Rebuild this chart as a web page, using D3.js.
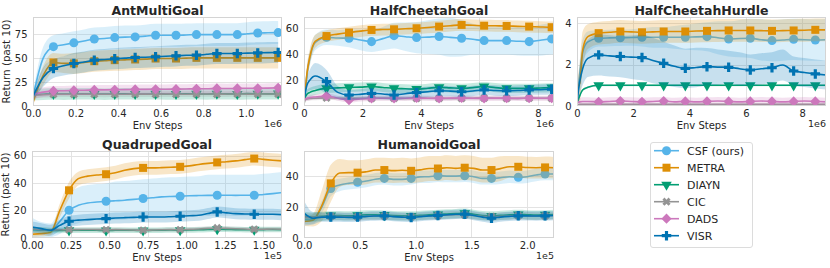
<!DOCTYPE html>
<html>
<head>
<meta charset="utf-8">
<script src="https://cdn.jsdelivr.net/npm/d3@7"></script>
<style>
  body { margin: 0; background: #fff; }
  svg { display: block; }
  text { font-family: "DejaVu Sans", sans-serif; fill: #262626; }
</style>
</head>
<body>
<div id="chart"></div>
<script>
// methods, colours, markers (same order in every panel)
const methods = ["CSF (ours)", "METRA", "DIAYN", "CIC", "DADS", "VISR"];
const colors = ["#56b4e9", "#de8f05", "#029e73", "#949494", "#cc78bc", "#0173b2"];
const shapes = ["circle", "square", "triangle", "x", "diamond", "plus"];

// ---- AntMultiGoal (x in 1e6 steps)
const antX = [0, 0.048, 0.096, 0.144, 0.192, 0.24, 0.288, 0.336, 0.384, 0.432, 0.48, 0.528, 0.576, 0.624, 0.672, 0.72, 0.768, 0.816, 0.864, 0.912, 0.96, 1.008, 1.056, 1.104, 1.152];
const antMarks = [2, 4, 6, 8, 10, 12, 14, 16, 18, 20, 22, 24];
const antCSF = [10, 50, 62, 64, 66, 68, 70, 70.5, 71.5, 72, 72.2, 73, 73.9, 73.9, 73.9, 74.2, 74.6, 74.6, 74.6, 74.6, 74.6, 75.5, 76.3, 76.5, 76.7];
const antCSFsd = [4, 12, 12, 12, 12, 12, 12, 12, 12, 12, 12, 12, 12, 12, 12, 12, 12, 12, 12, 12, 12, 12, 12, 12, 12];
const antMETRA = [4, 32, 45.5, 44.5, 44.5, 45.5, 46.8, 47.3, 47.9, 48.2, 48.6, 49, 49.6, 49.6, 49.6, 50, 50.3, 50.3, 50.3, 50.3, 50.3, 50.3, 50.3, 50.3, 50.3];
const antMETRAsd = [3, 10, 10, 10, 11, 11, 11, 11, 11, 11, 11, 11, 11, 11, 11, 11, 11, 11, 11, 11, 11, 11, 11, 11, 11];
const antDIAYN = [12, 12.3, 12.6, 12.4, 12.5, 12.7, 12.5, 12.4, 12.6, 12.8, 12.6, 12.5, 12.7, 12.6, 12.5, 12.8, 12.7, 12.6, 12.8, 12.7, 12.6, 12.9, 12.8, 12.7, 12.9];
const antDIAYNsd = 6;
const antCIC = [11, 11.8, 12.2, 12.3, 12.2, 12.4, 12.3, 12.2, 12.4, 12.3, 12.5, 12.4, 12.3, 12.5, 12.4, 12.3, 12.5, 12.6, 12.4, 12.5, 12.6, 12.4, 12.5, 12.6, 12.5];
const antCICsd = 3;
const antDADS = [12, 14.5, 15.8, 16, 16.3, 16.5, 16.8, 16.9, 17, 17.1, 17.3, 17.4, 17.5, 17.5, 17.6, 17.8, 18, 18, 18.4, 18.3, 18.4, 18.6, 18.5, 18.7, 19];
const antDADSsd = 5;
const antVISR = [10, 30, 39.2, 42, 44.4, 46, 47.9, 48.6, 49.3, 50, 50.7, 51, 51.4, 52, 52.4, 53, 53.1, 54, 54.8, 54.8, 54.8, 55.3, 55.5, 55.8, 55.9];
const antVISRsd = [4, 10, 10, 10, 11, 11, 11, 11, 11, 11, 11, 11, 11, 11, 11, 11, 11, 11, 11, 11, 11, 11, 11, 11, 11];
const antXTicks = [0, 0.2, 0.4, 0.6, 0.8, 1.0];
const antYTicks = [0, 25, 50, 75];

// ---- HalfCheetahGoal (x in 1e6 steps)
const hcgX = [0, 0.1, 0.2, 0.385, 0.77, 1.155, 1.54, 1.925, 2.31, 2.695, 3.08, 3.465, 3.85, 4.235, 4.62, 5.005, 5.39, 5.775, 6.16, 6.545, 6.93, 7.315, 7.7, 8.085, 8.47, 8.55];
const hcgMarks = [4, 6, 8, 10, 12, 14, 16, 18, 20, 22, 24];
const hcgCSF = [0, 24, 37, 49, 53, 52.5, 52.3, 51, 49.7, 52, 54.3, 53.5, 52.8, 53.2, 53.6, 53, 52.3, 51.5, 50.5, 50.5, 50.5, 50, 49.7, 50.8, 51.8, 51.8];
const hcgCSFsd = [1, 6, 6, 6, 6, 6, 7, 8, 8, 9, 10, 11, 12, 13, 14, 15, 14, 12, 11, 11, 11, 11, 11, 12, 12, 12];
const hcgMETRA = [0, 25, 38, 50, 54, 55.5, 56.7, 57.8, 58.7, 59, 59.2, 59.6, 60, 60.6, 61.3, 62, 62.6, 62.3, 62, 61.9, 61.8, 61.5, 61.3, 61, 60.8, 60.8];
const hcgMETRAsd = [1, 6, 6, 5, 4.5, 4.5, 4.5, 4.5, 4.5, 4.5, 4.5, 4.5, 4.5, 4.5, 4.5, 4.5, 4.5, 4.5, 4.5, 4.5, 4.5, 4.5, 4.5, 4.5, 4.5, 4.5];
const hcgDIAYN = [4.6, 9, 10.5, 12, 13.6, 14, 14.4, 14.6, 15, 14.3, 13.6, 13.3, 13, 13.7, 14.4, 14, 13.6, 14.2, 15, 14.2, 13.6, 13.6, 13.6, 13.9, 14.2, 14.2];
const hcgDIAYNsd = 3.5;
const hcgCIC = [5, 5.5, 5.8, 6, 6.3, 6, 5.9, 5.9, 5.9, 6, 5.9, 5.8, 5.9, 6, 5.9, 5.8, 5.9, 6, 6.1, 6, 5.9, 5.9, 6, 6, 5.9, 5.9];
const hcgCICsd = 1.5;
const hcgDADS = [4, 6, 6.5, 7, 7.7, 6, 4.6, 5.5, 5.9, 6, 5.9, 6, 6.2, 6, 5.9, 6.1, 6.2, 6, 5.9, 6.1, 6, 5.9, 6.1, 6, 6, 6];
const hcgDADSsd = 2;
const hcgVISR = [5, 16, 20, 23.2, 18.8, 10.5, 8.5, 9, 9.8, 9.3, 8.5, 9.5, 10.3, 11, 11.8, 11.5, 11, 11.6, 12.4, 12, 11.8, 12, 12.4, 12.6, 12.9, 12.9];
const hcgVISRsd = [2, 6, 8, 10, 9, 5, 4, 4, 4, 4, 4, 4, 4, 4, 4, 4, 4, 4, 4, 4, 4, 4, 4, 4, 4, 4];
const hcgXTicks = [0, 2, 4, 6, 8];
const hcgYTicks = [0, 20, 40, 60];

// ---- HalfCheetahHurdle (x in 1e6 steps)
const hchX = [0, 0.1, 0.2, 0.385, 0.77, 1.155, 1.54, 1.925, 2.31, 2.695, 3.08, 3.465, 3.85, 4.235, 4.62, 5.005, 5.39, 5.775, 6.16, 6.545, 6.93, 7.315, 7.7, 8.085, 8.47, 8.85];
const hchMarks = [4, 6, 8, 10, 12, 14, 16, 18, 20, 22, 24];
const hchCSF = [0.2, 1.6, 2.6, 3.1, 3.27, 3.29, 3.3, 3.31, 3.32, 3.32, 3.32, 3.32, 3.32, 3.34, 3.35, 3.3, 3.24, 3.26, 3.27, 3.2, 3.16, 3.19, 3.22, 3.2, 3.19, 3.2];
const hchCSFsd = [0.1, 0.6, 0.6, 0.5, 0.4, 0.4, 0.4, 0.4, 0.45, 0.5, 0.5, 0.55, 0.6, 0.65, 0.7, 0.8, 0.85, 0.9, 0.95, 1.0, 1.0, 1.0, 1.0, 1.0, 1.0, 1.0];
const hchMETRA = [0.9, 1.1, 2.7, 3.35, 3.52, 3.56, 3.6, 3.58, 3.56, 3.58, 3.6, 3.6, 3.6, 3.62, 3.63, 3.64, 3.65, 3.65, 3.65, 3.64, 3.63, 3.64, 3.65, 3.66, 3.68, 3.68];
const hchMETRAsd = [0.3, 1.0, 0.9, 0.6, 0.55, 0.55, 0.55, 0.55, 0.55, 0.55, 0.55, 0.55, 0.55, 0.55, 0.55, 0.55, 0.55, 0.55, 0.55, 0.55, 0.55, 0.55, 0.55, 0.55, 0.55, 0.55];
const hchDIAYN = [0.1, 0.5, 0.77, 0.9, 1.0, 1.0, 1.0, 1.0, 1.0, 1.0, 1.0, 1.0, 1.0, 1.0, 1.0, 1.0, 1.0, 1.0, 1.0, 1.0, 1.0, 1.0, 1.0, 1.0, 1.0, 1.0];
const hchDIAYNsd = 0.04;
const hchCIC = [0.05, 0.08, 0.08, 0.08, 0.08, 0.08, 0.08, 0.08, 0.08, 0.08, 0.08, 0.08, 0.08, 0.08, 0.08, 0.08, 0.08, 0.08, 0.08, 0.08, 0.08, 0.08, 0.08, 0.08, 0.08, 0.08];
const hchCICsd = 0.05;
const hchDADS = [0.15, 0.2, 0.22, 0.22, 0.2, 0.22, 0.24, 0.22, 0.2, 0.22, 0.24, 0.2, 0.22, 0.2, 0.22, 0.24, 0.22, 0.2, 0.22, 0.24, 0.22, 0.2, 0.22, 0.24, 0.22, 0.2];
const hchDADSsd = 0.2;
const hchVISR = [0.2, 1.2, 1.8, 2.3, 2.47, 2.42, 2.39, 2.36, 2.34, 2.2, 2.06, 1.92, 1.82, 1.86, 1.9, 1.88, 1.87, 1.8, 1.74, 1.8, 1.85, 1.98, 1.69, 1.62, 1.55, 1.5];
const hchVISRsd = [0.1, 0.6, 0.8, 0.9, 1.0, 1.0, 1.0, 1.05, 1.1, 1.1, 1.05, 1.0, 0.95, 0.95, 0.9, 0.85, 0.8, 0.8, 0.75, 0.75, 0.75, 0.75, 0.7, 0.7, 0.7, 0.7];
const hchXTicks = [0, 2, 4, 6, 8];
const hchYTicks = [0, 2, 4];

// ---- QuadrupedGoal (x in 1e5 steps), no DADS run
const quadX = [0, 0.06, 0.12, 0.18, 0.24, 0.3, 0.36, 0.42, 0.48, 0.54, 0.6, 0.66, 0.72, 0.78, 0.84, 0.9, 0.96, 1.02, 1.08, 1.14, 1.2, 1.26, 1.32, 1.38, 1.44, 1.5, 1.56, 1.62];
const quadMarks = [4, 8, 12, 16, 20, 24];
const quadCSF = [7, 5.6, 5.6, 12, 20.2, 23.8, 25.5, 26.2, 26.7, 27.1, 27.5, 28.1, 28.7, 29.3, 29.9, 30.2, 30.4, 30.7, 30.9, 31, 31.1, 31.1, 31, 31.1, 31.1, 31.7, 32.3, 33];
const quadCSFsd = [8, 6, 5, 9, 12, 13, 13, 13, 13, 14, 14, 14, 14, 14, 14, 14, 14, 14, 14, 15, 15, 15, 15, 15, 15, 15, 15, 15];
const quadMETRA = [2.7, 3.2, 4, 20, 34.7, 43.2, 45, 45.8, 46.4, 47.5, 49.3, 50.5, 51, 51, 51.2, 51.5, 51.8, 52.5, 53.5, 54.3, 55, 55.5, 56.1, 57, 57.8, 57.2, 56.6, 56.1];
const quadMETRAsd = [2, 2, 2, 5, 6, 5, 5, 5, 5, 5, 5, 5, 5, 5, 5, 5, 5, 5, 5, 5, 5, 5, 5, 5, 5, 5, 5, 5];
const quadDIAYN = [6, 6, 5.5, 5.5, 5.6, 5.6, 5.7, 5.6, 5.5, 5.6, 5.7, 5.6, 5.5, 5.6, 5.7, 5.8, 5.7, 5.8, 6, 6.2, 6.4, 6.3, 6.1, 6, 6, 6.1, 6.2, 6.1];
const quadDIAYNsd = 2;
const quadCIC = [6.5, 6, 5.8, 6, 6, 6.1, 6.2, 6.1, 6, 6.1, 6, 5.8, 5.6, 5.8, 6, 6.1, 6, 6.3, 6.6, 7, 7.3, 7, 6.7, 6.5, 6.3, 6.4, 6.5, 6.4];
const quadCICsd = 1.5;
const quadVISR = [8, 6.8, 5.6, 9.2, 12.2, 13, 13.4, 13.8, 14.1, 14.5, 14.8, 15, 15.3, 15.3, 15.3, 15.5, 15.8, 16.2, 16.5, 17.8, 19, 18.3, 17.7, 17.5, 17.3, 17.3, 17.3, 17];
const quadVISRsd = 4;
const quadXTicks = [0, 0.25, 0.5, 0.75, 1.0, 1.25, 1.5];
const quadYTicks = [0, 20, 40, 60];

// ---- HumanoidGoal (x in 1e5 steps), no DADS run
const humX = [0, 0.08, 0.16, 0.24, 0.32, 0.4, 0.48, 0.56, 0.64, 0.72, 0.8, 0.88, 0.96, 1.04, 1.12, 1.2, 1.28, 1.36, 1.44, 1.52, 1.6, 1.68, 1.76, 1.84, 1.92, 2.0, 2.08, 2.16, 2.24];
const humMarks = [3, 6, 9, 12, 15, 18, 21, 24, 27];
const humCSF = [12, 12.2, 20, 32, 34.2, 35.3, 36, 36.8, 38, 38.5, 37.9, 37.9, 38.5, 39.5, 39.6, 40.2, 40, 40, 40.2, 39.6, 38.5, 38.5, 38.9, 39.6, 39.2, 39.6, 40.7, 41.3, 41.3];
const humCSFsd = [3, 3, 4, 5, 4, 4, 4, 4, 4, 4, 4, 4, 4, 4, 4, 4, 4, 4, 4, 4, 4, 4, 4, 4, 4, 4, 4, 4, 4];
const humMETRA = [10.7, 11.5, 21, 35.3, 42, 42.2, 42.2, 42.8, 43.9, 43.9, 43.5, 43.8, 43.4, 44, 44.9, 44.9, 45.4, 45, 45.4, 45, 43.9, 43.9, 44.8, 46, 46, 45.5, 45.4, 45.6, 45.4];
const humMETRAsd = [3, 4, 10, 12, 9, 8, 8, 8, 8, 8, 8, 8, 8, 8, 8, 8, 8, 8, 8, 8, 8, 8, 8, 7, 7, 7, 7, 7, 7];
const humDIAYN = [14, 13.5, 14, 14.5, 14.5, 14.3, 14.6, 15, 15, 14.8, 14.5, 14.3, 14.2, 14.6, 15, 15.2, 15.5, 15.8, 16, 15.3, 14.5, 14.2, 14.6, 15, 15.2, 15, 14.8, 15, 15.2];
const humDIAYNsd = 3;
const humCIC = [13.5, 13.5, 13.8, 14, 14, 13.8, 13.7, 14, 14.2, 14.2, 14, 13.8, 13.7, 14, 14.3, 14.5, 14.8, 15, 15, 14.5, 14, 13.8, 14, 14.2, 14.4, 14.3, 14.2, 14.3, 14.5];
const humCICsd = 2.5;
const humVISR = [16, 12.8, 13.5, 13.5, 13.5, 13.3, 13.5, 14, 14.2, 14.3, 13.8, 13.5, 13.3, 13.8, 14.3, 14.6, 15, 15.3, 15.4, 14.5, 13.5, 12.8, 13.5, 14, 14.3, 14.3, 14.2, 14.3, 14.5];
const humVISRsd = [8, 4, 3, 3, 3, 3, 3, 3, 3, 3, 3, 3, 3, 3, 3, 3, 3, 3, 3, 3, 3, 3, 3, 3, 3, 3, 3, 3, 3];
const humXTicks = [0, 0.5, 1.0, 1.5, 2.0];
const humYTicks = [0, 20, 40];

// panels: data + where they sit in the 830x268 figure
const panels = [
  { title: "AntMultiGoal", x: antX, marks: antMarks, xDom: [0, 1.17], yDom: [0, 93],
    xTicks: antXTicks, yTicks: antYTicks, xFmt: ".1f", exp: "1e6", ylab: true,
    box: { l: 33, r: 282, t: 17, b: 106 },
    series: [[antCSF, antCSFsd], [antMETRA, antMETRAsd], [antDIAYN, antDIAYNsd], [antCIC, antCICsd], [antDADS, antDADSsd], [antVISR, antVISRsd]] },
  { title: "HalfCheetahGoal", x: hcgX, marks: hcgMarks, xDom: [0, 8.55], yDom: [0, 68.7],
    xTicks: hcgXTicks, yTicks: hcgYTicks, xFmt: "d", exp: "1e6", ylab: false,
    box: { l: 304, r: 554, t: 17, b: 106 },
    series: [[hcgCSF, hcgCSFsd], [hcgMETRA, hcgMETRAsd], [hcgDIAYN, hcgDIAYNsd], [hcgCIC, hcgCICsd], [hcgDADS, hcgDADSsd], [hcgVISR, hcgVISRsd]] },
  { title: "HalfCheetahHurdle", x: hchX, marks: hchMarks, xDom: [0, 8.85], yDom: [0, 4.3],
    xTicks: hchXTicks, yTicks: hchYTicks, xFmt: "d", exp: "1e6", ylab: false,
    box: { l: 577, r: 826, t: 17, b: 106 },
    series: [[hchCSF, hchCSFsd], [hchMETRA, hchMETRAsd], [hchDIAYN, hchDIAYNsd], [hchCIC, hchCICsd], [hchDADS, hchDADSsd], [hchVISR, hchVISRsd]] },
  { title: "QuadrupedGoal", x: quadX, marks: quadMarks, xDom: [0, 1.62], yDom: [0, 63.3],
    xTicks: quadXTicks, yTicks: quadYTicks, xFmt: ".2f", exp: "1e5", ylab: true,
    box: { l: 32, r: 282, t: 151, b: 238 },
    series: [[quadCSF, quadCSFsd], [quadMETRA, quadMETRAsd], [quadDIAYN, quadDIAYNsd], [quadCIC, quadCICsd], null, [quadVISR, quadVISRsd]] },
  { title: "HumanoidGoal", x: humX, marks: humMarks, xDom: [0, 2.24], yDom: [0, 56.2],
    xTicks: humXTicks, yTicks: humYTicks, xFmt: ".1f", exp: "1e5", ylab: false,
    box: { l: 304, r: 554, t: 151, b: 238 },
    series: [[humCSF, humCSFsd], [humMETRA, humMETRAsd], [humDIAYN, humDIAYNsd], [humCIC, humCICsd], null, [humVISR, humVISRsd]] }
];

const W = 830, H = 268;
const svg = d3.select("#chart").append("svg").attr("width", W).attr("height", H);

// matplotlib-ish marker shapes with d3.symbol
function symbolPath(shape) {
  if (shape === "circle") return { d: d3.symbol(d3.symbolCircle, 64)(), rot: 0 };
  if (shape === "square") return { d: d3.symbol(d3.symbolSquare, 64)(), rot: 0 };
  if (shape === "triangle") return { d: d3.symbol(d3.symbolTriangle, 48)(), rot: 180 };
  if (shape === "x") return { d: d3.symbol(d3.symbolCross, 42)(), rot: 45 };
  if (shape === "diamond") return { d: d3.symbol(d3.symbolSquare, 52)(), rot: 45 };
  return { d: d3.symbol(d3.symbolCross, 50)(), rot: 0 };
}

function sdAt(sd, i) { return Array.isArray(sd) ? sd[i] : sd; }

panels.forEach((p, pi) => {
  const { l, r, t, b } = p.box;
  const xs = d3.scaleLinear().domain(p.xDom).range([l, r]);
  const ys = d3.scaleLinear().domain(p.yDom).range([b, t]);
  const g = svg.append("g");

  // grid
  g.selectAll(".gx").data(p.xTicks.filter(v => v > p.xDom[0]))
    .enter().append("line")
    .attr("x1", d => Math.round(xs(d)) + 0.5).attr("x2", d => Math.round(xs(d)) + 0.5)
    .attr("y1", t).attr("y2", b)
    .attr("stroke", "#e3e3e3").attr("stroke-width", 1);
  g.selectAll(".gy").data(p.yTicks.filter(v => v > p.yDom[0]))
    .enter().append("line")
    .attr("y1", d => Math.round(ys(d)) + 0.5).attr("y2", d => Math.round(ys(d)) + 0.5)
    .attr("x1", l).attr("x2", r)
    .attr("stroke", "#e3e3e3").attr("stroke-width", 1);

  // clip
  const cid = "clip" + pi;
  svg.append("clipPath").attr("id", cid).append("rect")
    .attr("x", l).attr("y", t).attr("width", r - l).attr("height", b - t);
  const plot = g.append("g").attr("clip-path", `url(#${cid})`);

  p.series.forEach((s, si) => {
    if (!s) return;
    const [mean, sd] = s;
    const idx = d3.range(mean.length);
    const area = d3.area()
      .x(i => xs(p.x[i]))
      .y0(i => ys(mean[i] - sdAt(sd, i)))
      .y1(i => ys(mean[i] + sdAt(sd, i)))
      .curve(d3.curveMonotoneX);
    plot.append("path").attr("d", area(idx))
      .attr("fill", colors[si]).attr("fill-opacity", 0.22);

    const line = d3.line().x(i => xs(p.x[i])).y(i => ys(mean[i])).curve(d3.curveMonotoneX);
    plot.append("path").attr("d", line(idx))
      .attr("fill", "none").attr("stroke", colors[si]).attr("stroke-width", 1.6);

    const sym = symbolPath(shapes[si]);
    plot.selectAll(".m" + si).data(p.marks).enter().append("path")
      .attr("d", sym.d)
      .attr("transform", i => `translate(${xs(p.x[i])},${ys(mean[i])}) rotate(${sym.rot})`)
      .attr("fill", colors[si]);
  });

  // frame
  g.append("rect").attr("x", l + 0.5).attr("y", t + 0.5)
    .attr("width", r - l - 1).attr("height", b - t - 1)
    .attr("fill", "none").attr("stroke", "#d4d4d4").attr("stroke-width", 1);

  // axes
  const xa = g.append("g").attr("transform", `translate(0,${b})`)
    .call(d3.axisBottom(xs).tickValues(p.xTicks).tickFormat(d3.format(p.xFmt)).tickSize(0).tickPadding(3.5));
  xa.select(".domain").remove();
  xa.attr("font-family", "DejaVu Sans").attr("font-size", 10).attr("color", "#262626");

  const ya = g.append("g").attr("transform", `translate(${l},0)`)
    .call(d3.axisLeft(ys).tickValues(p.yTicks).tickFormat(d3.format("d")).tickSize(0).tickPadding(5.5));
  ya.select(".domain").remove();
  ya.attr("font-family", "DejaVu Sans").attr("font-size", 10).attr("color", "#262626");

  // title and labels
  g.append("text").attr("x", (l + r) / 2).attr("y", t - 2.5)
    .attr("text-anchor", "middle").attr("font-size", 12.5).attr("font-weight", "bold")
    .text(p.title);
  g.append("text").attr("x", (l + r) / 2).attr("y", b + 22.5)
    .attr("text-anchor", "middle").attr("font-size", 10).text("Env Steps");
  g.append("text").attr("x", r).attr("y", b + 20.5)
    .attr("text-anchor", "end").attr("font-size", 9.5).text(p.exp);
  if (p.ylab) {
    g.append("text").attr("transform", `translate(${l - 23},${(t + b) / 2}) rotate(-90)`)
      .attr("text-anchor", "middle").attr("font-size", 10.3).text("Return (past 10)");
  }
});

// legend
const lg = svg.append("g").attr("transform", "translate(650,142)");
lg.append("rect").attr("x", 0.5).attr("y", 0.5).attr("width", 102).attr("height", 105).attr("rx", 2.5)
  .attr("fill", "#fff").attr("stroke", "#dcdcdc");
methods.forEach((m, i) => {
  const y = 8.7 + i * 17;
  lg.append("line").attr("x1", 4).attr("x2", 29).attr("y1", y).attr("y2", y)
    .attr("stroke", colors[i]).attr("stroke-width", 1.6);
  const sym = symbolPath(shapes[i]);
  lg.append("path").attr("d", sym.d).attr("fill", colors[i])
    .attr("transform", `translate(16.5,${y}) rotate(${sym.rot})`);
  lg.append("text").attr("x", 37).attr("y", y).attr("dy", "0.36em")
    .attr("font-size", 11).text(m);
});
</script>
</body>
</html>
